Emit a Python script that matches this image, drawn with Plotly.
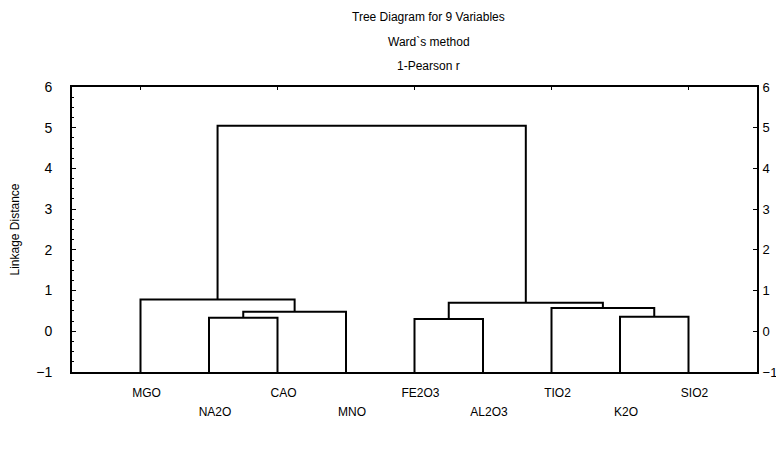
import plotly.graph_objects as go

# ---- data ----
leaf_labels = ["MGO", "NA2O", "CAO", "MNO", "FE2O3", "AL2O3", "TIO2", "K2O", "SIO2"]
# merges: node ids < 9 are leaves, >= 9 are earlier merges in order
merge_left = [1, 9, 0, 4, 7, 6, 12, 11]
merge_right = [2, 3, 10, 5, 8, 13, 14, 15]
merge_height = [0.33, 0.48, 0.78, 0.30, 0.36, 0.57, 0.70, 5.05]
y_ticks = [-1, 0, 1, 2, 3, 4, 5, 6]
base_level = -1

# ---- build dendrogram segments ----
pos, hgt = {}, {}
for i in range(len(leaf_labels)):
    pos[i] = i + 1
    hgt[i] = base_level
xs, ys = [], []
for k, (a, b, h) in enumerate(zip(merge_left, merge_right, merge_height)):
    node = len(leaf_labels) + k
    xa, xb = pos[a], pos[b]
    xs += [xa, xa, xb, xb, None]
    ys += [hgt[a], h, h, hgt[b], None]
    pos[node] = (xa + xb) / 2
    hgt[node] = h

leaf_pos = list(range(1, len(leaf_labels) + 1))
row1_vals = [p for i, p in enumerate(leaf_pos) if i % 2 == 0]
row1_text = [t for i, t in enumerate(leaf_labels) if i % 2 == 0]
row2_vals = [p for i, p in enumerate(leaf_pos) if i % 2 == 1]
row2_text = [t for i, t in enumerate(leaf_labels) if i % 2 == 1]

fig = go.Figure()
fig.add_trace(go.Scatter(x=xs, y=ys, mode="lines",
                         line=dict(color="black", width=2),
                         hoverinfo="skip", showlegend=False))
fig.add_trace(go.Scatter(x=[None], y=[None], xaxis="x2", yaxis="y2",
                         showlegend=False, hoverinfo="skip"))

font = "Liberation Sans, Arial, sans-serif"
fig.update_layout(
    width=776, height=446,
    margin=dict(l=64, r=27, t=79, b=82, pad=0, autoexpand=False),
    paper_bgcolor="white", plot_bgcolor="white",
    font=dict(family=font, color="black"),
    xaxis=dict(range=[0, 10], tickvals=row1_vals, ticktext=row1_text,
               showgrid=False, zeroline=False, automargin=False,
               showline=True, linecolor="black", linewidth=2, mirror="ticks",
               ticks="inside", ticklen=3, tickcolor="black",
               ticklabelstandoff=9, ticklabelshift=6,
               tickfont=dict(size=12, family=font)),
    xaxis2=dict(range=[0, 10], tickvals=row2_vals, ticktext=row2_text,
                overlaying="x", side="bottom", showgrid=False, zeroline=False,
                automargin=False,
                showline=False, ticks="", ticklabelstandoff=31, ticklabelshift=6,
                tickfont=dict(size=12, family=font)),
    yaxis=dict(range=[-1, 6], tickvals=y_ticks, showgrid=False, zeroline=False,
               automargin=False,
               showline=True, linecolor="black", linewidth=2,
               ticks="inside", ticklen=4, tickcolor="black",
               minor=dict(ticks="inside", ticklen=2, dtick=0.25, tickcolor="black"),
               ticklabelstandoff=15,
               tickfont=dict(size=14, family=font),
               title=dict(text="Linkage Distance", font=dict(size=12, family=font), standoff=18)),
    yaxis2=dict(range=[-1, 6], tickvals=y_ticks, overlaying="y", side="right",
                showgrid=False, zeroline=False, automargin=False,
                showline=True, linecolor="black",
                linewidth=2, ticks="inside", ticklen=4, tickcolor="black",
                ticklabelstandoff=1,
                tickfont=dict(size=13, family=font)),
    annotations=[
        dict(text="Tree Diagram for 9 Variables", x=0.5, y=1, xref="x domain", yref="paper",
             yanchor="middle", yshift=70, xshift=14, showarrow=False,
             font=dict(size=12, family=font)),
        dict(text="Ward`s method", x=0.5, y=1, xref="x domain", yref="paper",
             yanchor="middle", yshift=45, xshift=14, showarrow=False,
             font=dict(size=12, family=font)),
        dict(text="1-Pearson r", x=0.5, y=1, xref="x domain", yref="paper",
             yanchor="middle", yshift=21, xshift=14, showarrow=False,
             font=dict(size=12, family=font)),
    ],
)

fig.write_html("out.html")
